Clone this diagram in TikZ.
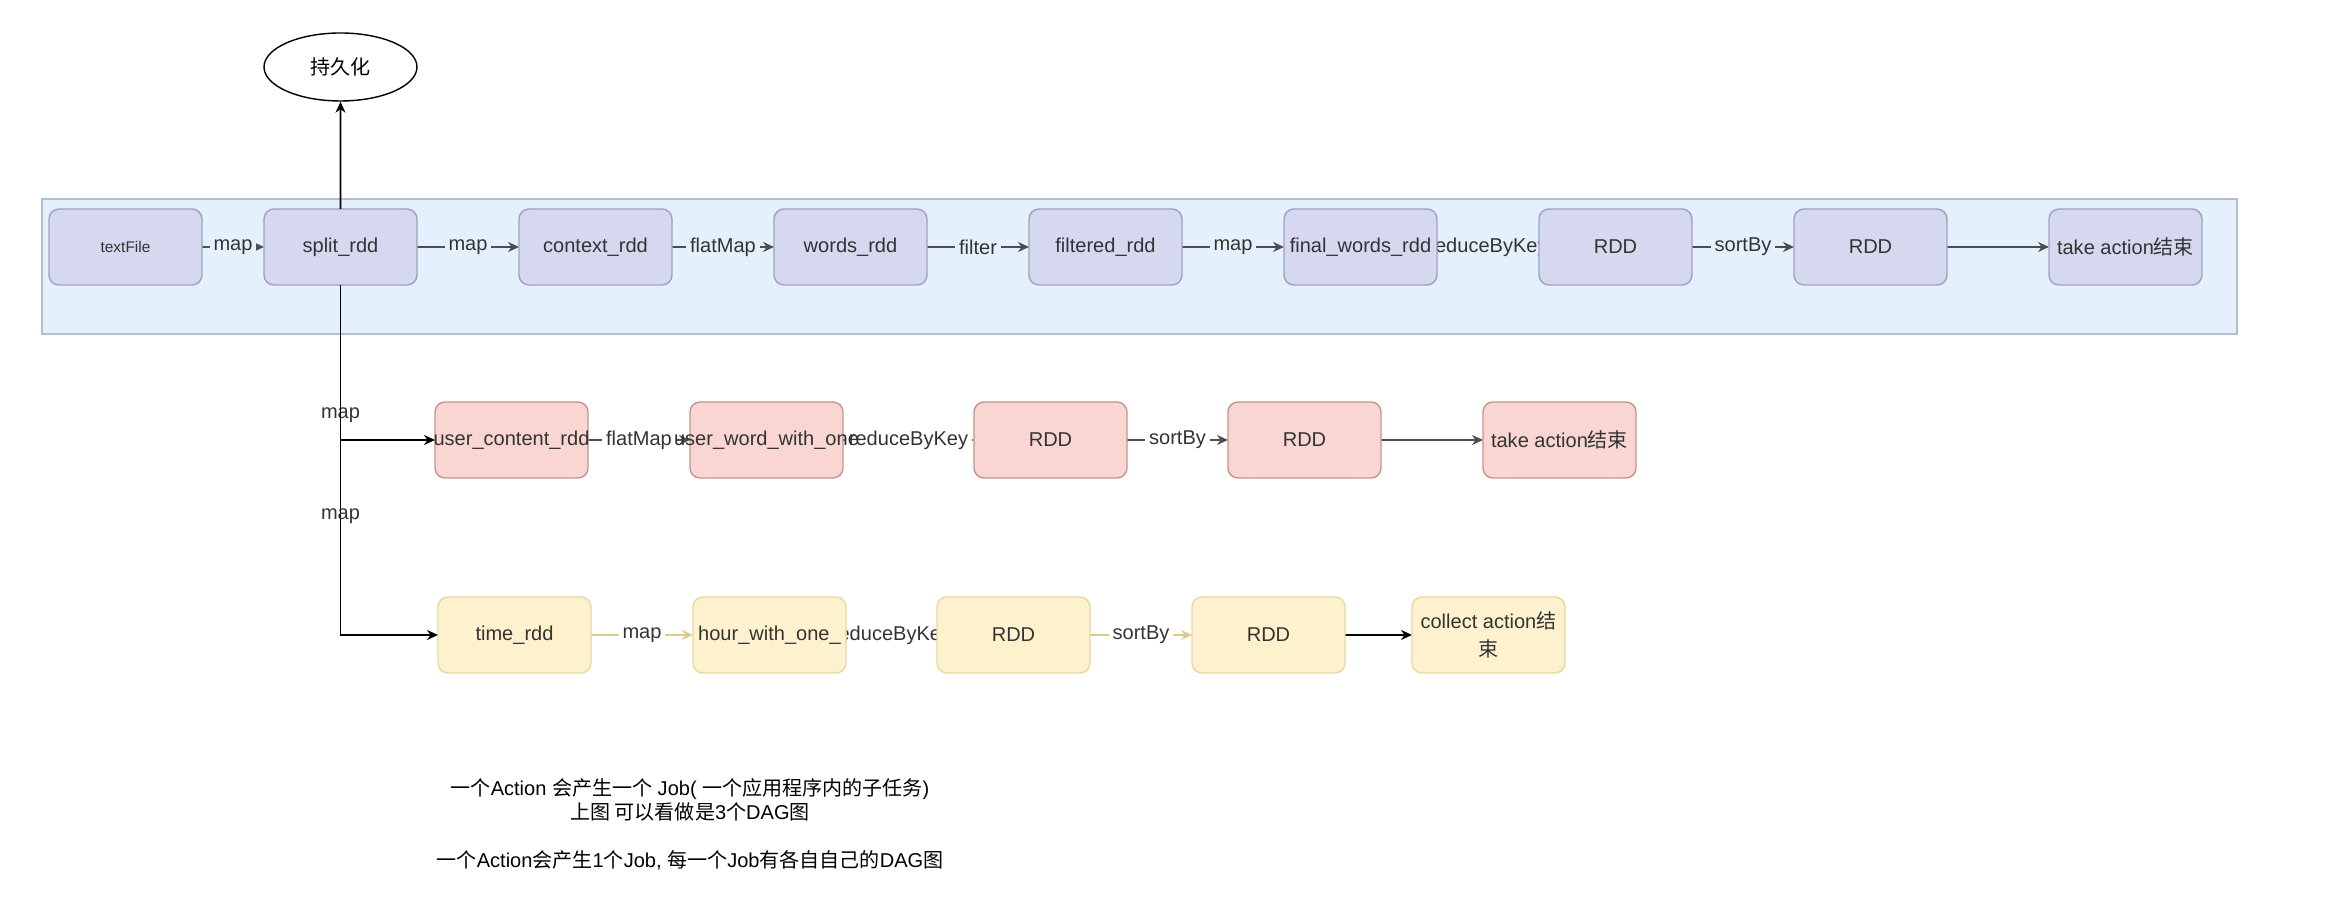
\documentclass[tikz,border=0pt]{standalone}
\usepackage{fontspec}
\setmainfont{Liberation Sans}
\newfontfamily\cjk{Noto Sans CJK SC}
\usepackage{tikz}
\definecolor{BandFill}{HTML}{E4F0FC}
\definecolor{BandLine}{HTML}{B4BED0}
\definecolor{JobOneFill}{HTML}{D5D8EE}
\definecolor{JobOneLine}{HTML}{9DA2C4}
\definecolor{JobTwoFill}{HTML}{F9D6D1}
\definecolor{JobTwoLine}{HTML}{C4948E}
\definecolor{JobThreeFill}{HTML}{FEF2CE}
\definecolor{JobThreeLine}{HTML}{E6D8A2}
\definecolor{TextGrey}{HTML}{333333}
\definecolor{EdgeGrey}{HTML}{4D4D4D}
\definecolor{PaleEdge}{HTML}{DCCB8E}
\usetikzlibrary{arrows.meta}
\usetikzlibrary{backgrounds}
\usetikzlibrary{positioning}
\usetikzlibrary{shapes.geometric}
\pgfdeclarelayer{bandlayer}
\pgfsetlayers{bandlayer,background,main}
\newcommand{\overrun}[1]{\makebox[0pt]{#1}}

\begin{document}
\begin{tikzpicture}[font=\fontsize{5.7}{6.8}\selectfont,
    text=TextGrey,
    node distance=5mm and 10.2mm,
    >={Stealth[length=1.1mm,width=1mm]},
    rddbox/.style={shape=rectangle,
      rounded corners=1mm,
      draw,
      minimum width=15.3mm,
      minimum height=7.6mm,
      inner sep=0pt,
      outer sep=0pt},
    jobone/.style={rddbox, fill=JobOneFill, draw=JobOneLine},
    jobtwo/.style={rddbox, fill=JobTwoFill, draw=JobTwoLine},
    jobthree/.style={rddbox, fill=JobThreeFill, draw=JobThreeLine},
    flow/.style={->, draw=EdgeGrey, line width=0.45pt},
    oplabel/.style={fill=#1, inner sep=0.4mm, midway},
    oplabel/.default=white]

    \path [use as bounding box] (0,0) rectangle (232.8mm,-92.2mm);

    \begin{pgfonlayer}{bandlayer}
      \path[fill=BandFill, draw=BandLine] (4.2mm,-19.9mm) rectangle (223.7mm,-33.4mm);
    \end{pgfonlayer}

    % first job
    \node[name=textfile, jobone, font=\fontsize{4.4}{5}\selectfont] at (12.55mm,-24.7mm) {textFile};
    \node[name=split, jobone, right=6.2mm of textfile] {split\_rdd};
    \node[name=context, jobone, right=of split] {context\_rdd};
    \node[name=words, jobone, right=of context] {words\_rdd};
    \node[name=filtered, jobone, right=of words] {filtered\_rdd};
    \node[name=finalwords, jobone, right=of filtered] {\overrun{final\_words\_rdd}};
    \node[name=reducedone, jobone, right=of finalwords] {RDD};
    \node[name=sortedone, jobone, right=of reducedone] {RDD};
    \node[name=takeone, jobone, right=of sortedone] {take action{\cjk 结束}};

    \node[name=persist, shape=ellipse, draw, fill=white, text=black,
      minimum width=15.3mm, minimum height=6.8mm, inner sep=0pt] at (34.05mm,-6.7mm) {{\cjk 持久化}};

    % second job
    \node[name=usercontent, jobtwo] at (51.15mm,-44mm) {\overrun{user\_content\_rdd}};
    \node[name=userword, jobtwo, right=of usercontent] {\overrun{user\_word\_with\_one}};
    \node[name=reducedtwo, jobtwo, right=13.1mm of userword] {RDD};
    \node[name=sortedtwo, jobtwo, right=10.1mm of reducedtwo] {RDD};
    \node[name=taketwo, jobtwo, right=of sortedtwo] {take action{\cjk 结束}};

    % third job
    \node[name=timerdd, jobthree] at (51.45mm,-63.5mm) {time\_rdd};
    \node[name=hourone, jobthree, right=of timerdd] {\overrun{hour\_with\_one\_}};
    \node[name=reducedthree, jobthree, right=9.1mm of hourone] {RDD};
    \node[name=sortedthree, jobthree, right=of reducedthree] {RDD};
    \node[name=collect, jobthree, right=6.7mm of sortedthree, align=center] {collect action{\cjk 结}\\[1pt]{\cjk 束}};

    \begin{scope}[on background layer]
      \path (textfile) edge[flow] node[oplabel=BandFill]{map} (split);
      \path (split) edge[flow] node[oplabel=BandFill]{map} (context);
      \path (context) edge[flow] node[oplabel=BandFill]{flatMap} (words);
      \path (words) edge[flow] node[oplabel=BandFill]{filter} (filtered);
      \path (filtered) edge[flow] node[oplabel=BandFill]{map} (finalwords);
      \path (finalwords) edge[flow] node[oplabel=BandFill]{reduceByKey} (reducedone);
      \path (reducedone) edge[flow] node[oplabel=BandFill]{sortBy} (sortedone);
      \path (sortedone) edge[flow] (takeone);

      \path (usercontent) edge[flow] node[oplabel]{flatMap} (userword);
      \path (userword) edge[flow] node[oplabel]{reduceByKey} (reducedtwo);
      \path (reducedtwo) edge[flow] node[oplabel]{sortBy} (sortedtwo);
      \path (sortedtwo) edge[flow] (taketwo);

      \path (timerdd) edge[flow, draw=PaleEdge] node[oplabel]{map} (hourone);
      \path (hourone) edge[flow, draw=PaleEdge] node[oplabel]{reduceByKey} (reducedthree);
      \path (reducedthree) edge[flow, draw=PaleEdge] node[oplabel]{sortBy} (sortedthree);
      \path (sortedthree) edge[flow, draw=black] (collect);
    \end{scope}

    \draw[flow, draw=black] (split) -- (persist);
    \draw[flow, draw=black] (split) |- node[pos=0.42, text=TextGrey]{map} (usercontent);
    \draw[flow, draw=black] (split) |- node[pos=0.33, text=TextGrey]{map} (timerdd);

    \node[name=note, align=center, text=black] at (69mm,-82.4mm)
      {{\cjk 一个}Action {\cjk 会产生一个} Job( {\cjk 一个应用程序内的子任务})\\
       {\cjk 上图 可以看做是}3{\cjk 个}DAG{\cjk 图}\\[6.8pt]
       {\cjk 一个}Action{\cjk 会产生}1{\cjk 个}Job, {\cjk 每一个}Job{\cjk 有各自自己的}DAG{\cjk 图}};
  \end{tikzpicture}
\end{document}
